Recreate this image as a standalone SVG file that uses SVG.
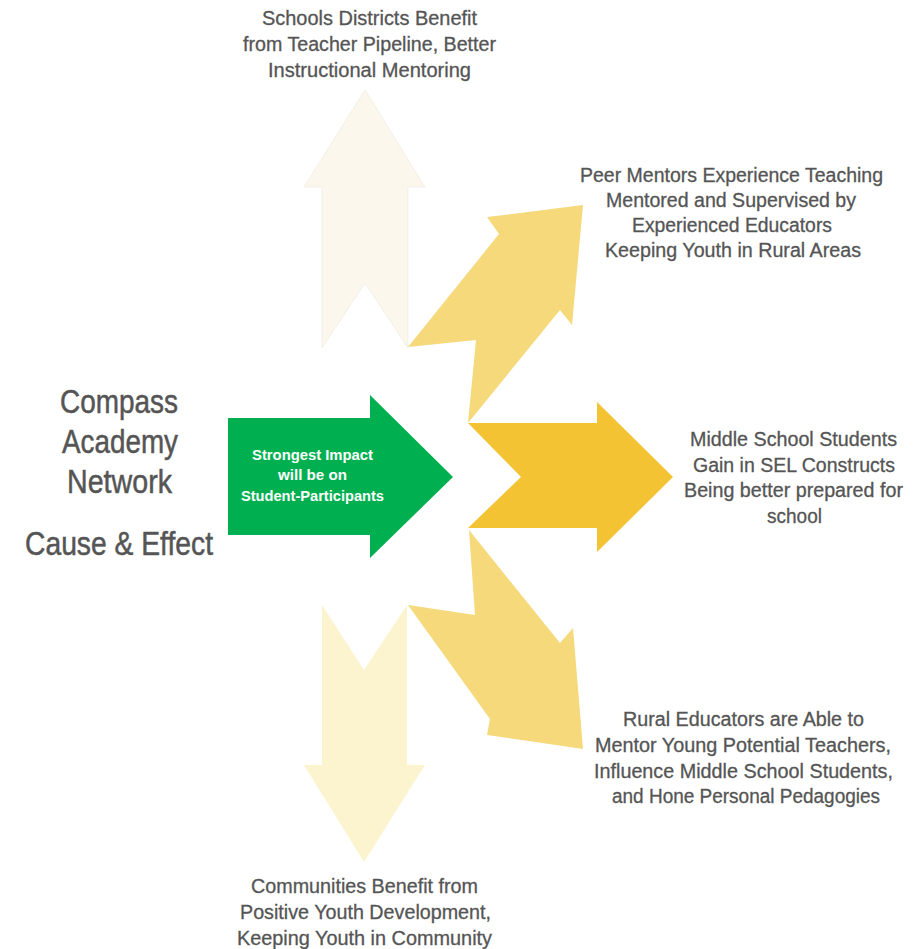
<svg xmlns="http://www.w3.org/2000/svg" width="917" height="949" viewBox="0 0 917 949">
<style>
.lbl{font-family:"Liberation Sans",Arial,sans-serif;font-size:20px;fill:#555555;stroke:#555555;stroke-width:0.3;text-anchor:middle}
.ttl{font-family:"Liberation Sans",Arial,sans-serif;font-size:33px;fill:#555555;stroke:#555555;stroke-width:0.5;text-anchor:middle}
.ctr{font-family:"Liberation Sans",Arial,sans-serif;font-size:14px;font-weight:bold;fill:#ffffff;text-anchor:middle}
.up{fill:#FBF7EC;stroke:#ECE8DC;stroke-width:0.6}
.diag{fill:#F5D97A}
.mid{fill:#F4C333}
.down{fill:#FCF4CF}
.green{fill:#00B050}
</style>
<rect width="917" height="949" fill="#ffffff"/>
<g id="connectors">
<polygon id="arrow-up" class="up" points="365,90 425,187 408,187 408,348 365,283 322,348 322,187 304,187"/>
<polygon id="arrow-upright" class="diag" points="408,347 476,340 468,423 560,310 572,325 583,205 487,217 499,234"/>
<polygon id="arrow-right" class="mid" points="468,423 597,423 597,402 673,477 597,552 597,528 468,528 521,477"/>
<polygon id="arrow-downright" class="diag" points="469,530 560,643 573,628 583,749 487,735 490,719 408,605 475,615"/>
<polygon id="arrow-down" class="down" points="322,605 364,670 407,605 407,765 425,765 364,862 304,765 322,765"/>
</g>
<g id="title">
<text class="ttl" x="119" y="413" textLength="118" lengthAdjust="spacingAndGlyphs">Compass</text>
<text class="ttl" x="120" y="453" textLength="116" lengthAdjust="spacingAndGlyphs">Academy</text>
<text class="ttl" x="119.5" y="493" textLength="105" lengthAdjust="spacingAndGlyphs">Network</text>
<text class="ttl" x="119" y="555" textLength="188" lengthAdjust="spacingAndGlyphs">Cause &amp; Effect</text>
</g>
<g id="center">
<polygon class="green" points="228,418 370,418 370,395 453,477 370,558 370,535 228,535"/>
<text class="ctr" x="312.5" y="460" textLength="121" lengthAdjust="spacingAndGlyphs">Strongest Impact</text>
<text class="ctr" x="312.5" y="480" textLength="69" lengthAdjust="spacingAndGlyphs">will be on</text>
<text class="ctr" x="312.5" y="501" textLength="143" lengthAdjust="spacingAndGlyphs">Student-Participants</text>
</g>
<g id="node-districts">
<text class="lbl" x="369.5" y="25" textLength="215" lengthAdjust="spacingAndGlyphs">Schools Districts Benefit</text>
<text class="lbl" x="369.5" y="51" textLength="253" lengthAdjust="spacingAndGlyphs">from Teacher Pipeline, Better</text>
<text class="lbl" x="369.5" y="77" textLength="203" lengthAdjust="spacingAndGlyphs">Instructional Mentoring</text>
</g>
<g id="node-peer">
<text class="lbl" x="731.5" y="182" textLength="303" lengthAdjust="spacingAndGlyphs">Peer Mentors Experience Teaching</text>
<text class="lbl" x="731" y="207" textLength="250" lengthAdjust="spacingAndGlyphs">Mentored and Supervised by</text>
<text class="lbl" x="732" y="232" textLength="200" lengthAdjust="spacingAndGlyphs">Experienced Educators</text>
<text class="lbl" x="733" y="257" textLength="256" lengthAdjust="spacingAndGlyphs">Keeping Youth in Rural Areas</text>
</g>
<g id="node-students">
<text class="lbl" x="793.5" y="446" textLength="207" lengthAdjust="spacingAndGlyphs">Middle School Students</text>
<text class="lbl" x="794" y="472" textLength="202" lengthAdjust="spacingAndGlyphs">Gain in SEL Constructs</text>
<text class="lbl" x="793.5" y="497" textLength="219" lengthAdjust="spacingAndGlyphs">Being better prepared for</text>
<text class="lbl" x="794.5" y="523" textLength="55" lengthAdjust="spacingAndGlyphs">school</text>
</g>
<g id="node-educators">
<text class="lbl" x="743.5" y="726" textLength="241" lengthAdjust="spacingAndGlyphs">Rural Educators are Able to</text>
<text class="lbl" x="743" y="752" textLength="296" lengthAdjust="spacingAndGlyphs">Mentor Young Potential Teachers,</text>
<text class="lbl" x="743.5" y="778" textLength="299" lengthAdjust="spacingAndGlyphs">Influence Middle School Students,</text>
<text class="lbl" x="746" y="803" textLength="268" lengthAdjust="spacingAndGlyphs">and Hone Personal Pedagogies</text>
</g>
<g id="node-communities">
<text class="lbl" x="364.5" y="893" textLength="227" lengthAdjust="spacingAndGlyphs">Communities Benefit from</text>
<text class="lbl" x="365.5" y="919" textLength="251" lengthAdjust="spacingAndGlyphs">Positive Youth Development,</text>
<text class="lbl" x="364.5" y="945" textLength="255" lengthAdjust="spacingAndGlyphs">Keeping Youth in Community</text>
</g>
</svg>
